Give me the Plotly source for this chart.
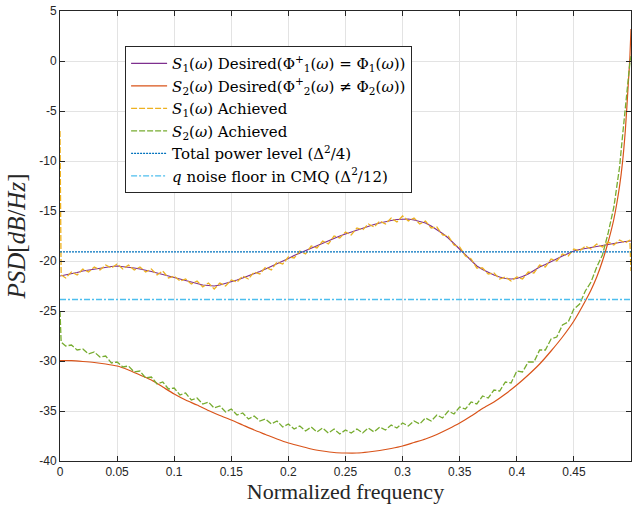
import plotly.graph_objects as go

# ---------------- data ----------------
freq_des1 = [0.000, 0.005, 0.010, 0.015, 0.020, 0.025, 0.030, 0.035, 0.040, 0.045,
             0.050, 0.055, 0.060, 0.065, 0.070, 0.075, 0.080, 0.085, 0.090, 0.095,
             0.100, 0.105, 0.110, 0.115, 0.120, 0.125, 0.130, 0.135, 0.140, 0.145,
             0.150, 0.155, 0.160, 0.165, 0.170, 0.175, 0.180, 0.185, 0.190, 0.195,
             0.200, 0.205, 0.210, 0.215, 0.220, 0.225, 0.230, 0.235, 0.240, 0.245,
             0.250, 0.255, 0.260, 0.265, 0.270, 0.275, 0.280, 0.285, 0.290, 0.295,
             0.300, 0.305, 0.310, 0.315, 0.320, 0.325, 0.330, 0.335, 0.340, 0.345,
             0.350, 0.355, 0.360, 0.365, 0.370, 0.375, 0.380, 0.385, 0.390, 0.395,
             0.400, 0.405, 0.410, 0.415, 0.420, 0.425, 0.430, 0.435, 0.440, 0.445,
             0.450, 0.455, 0.460, 0.465, 0.470, 0.475, 0.480, 0.485, 0.490, 0.495,
             0.500]
s1_desired = [-21.5, -21.4, -21.3, -21.15, -21.0, -20.9, -20.8, -20.7, -20.6, -20.55,
              -20.5, -20.55, -20.6, -20.7, -20.8, -20.9, -21.05, -21.2, -21.35, -21.5,
              -21.7, -21.85, -22.0, -22.15, -22.3, -22.4, -22.45, -22.5, -22.4, -22.25,
              -22.1, -21.9, -21.7, -21.5, -21.3, -21.05, -20.8, -20.55, -20.3, -20.0,
              -19.75, -19.45, -19.2, -18.95, -18.7, -18.45, -18.2, -17.95, -17.7, -17.5,
              -17.3, -17.1, -16.9, -16.7, -16.5, -16.35, -16.2, -16.05, -15.95, -15.85,
              -15.8, -15.8, -15.9, -16.05, -16.2, -16.5, -16.85, -17.25, -17.7, -18.25,
              -18.8, -19.35, -19.95, -20.5, -20.85, -21.15, -21.4, -21.6, -21.75, -21.8,
              -21.75, -21.55, -21.3, -20.95, -20.6, -20.35, -20.05, -19.8, -19.5, -19.25,
              -19.0, -18.85, -18.75, -18.6, -18.5, -18.4, -18.3, -18.2, -18.1, -18.05,
              -18.0]

freq_des2 = [0.00, 0.01, 0.02, 0.03, 0.04, 0.05, 0.06, 0.07, 0.08, 0.09,
             0.10, 0.11, 0.12, 0.13, 0.14, 0.15, 0.16, 0.17, 0.18, 0.19,
             0.20, 0.21, 0.22, 0.23, 0.24, 0.25, 0.26, 0.27, 0.28, 0.29,
             0.30, 0.31, 0.32, 0.33, 0.34, 0.35, 0.36, 0.37, 0.38, 0.39,
             0.40, 0.41, 0.42, 0.43, 0.44, 0.45, 0.46, 0.465, 0.47, 0.475,
             0.48, 0.485, 0.49, 0.4925, 0.495, 0.4975, 0.499, 0.5]
s2_desired = [-29.95, -29.97, -30.05, -30.15, -30.3, -30.5, -30.9, -31.4, -31.9, -32.6,
              -33.3, -33.9, -34.4, -34.95, -35.45, -35.9, -36.4, -36.9, -37.35, -37.8,
              -38.2, -38.5, -38.8, -39.0, -39.15, -39.2, -39.2, -39.1, -38.95, -38.75,
              -38.5, -38.15, -37.8, -37.35, -36.8, -36.2, -35.5, -34.75, -34.1, -33.3,
              -32.4, -31.4, -30.3, -29.0, -27.6, -26.0, -24.0, -22.9, -21.6, -20.0,
              -18.1, -15.8, -12.5, -10.2, -7.0, -2.5, 0.3, 3.2]

freq_ach1 = [0.0, 0.001, 0.005, 0.010, 0.015, 0.020, 0.025, 0.030, 0.035, 0.040, 0.045,
             0.050, 0.055, 0.060, 0.065, 0.070, 0.075, 0.080, 0.085, 0.090, 0.095,
             0.100, 0.105, 0.110, 0.115, 0.120, 0.125, 0.130, 0.135, 0.140, 0.145,
             0.150, 0.155, 0.160, 0.165, 0.170, 0.175, 0.180, 0.185, 0.190, 0.195,
             0.200, 0.205, 0.210, 0.215, 0.220, 0.225, 0.230, 0.235, 0.240, 0.245,
             0.250, 0.255, 0.260, 0.265, 0.270, 0.275, 0.280, 0.285, 0.290, 0.295,
             0.300, 0.305, 0.310, 0.315, 0.320, 0.325, 0.330, 0.335, 0.340, 0.345,
             0.350, 0.355, 0.360, 0.365, 0.370, 0.375, 0.380, 0.385, 0.390, 0.395,
             0.400, 0.405, 0.410, 0.415, 0.420, 0.425, 0.430, 0.435, 0.440, 0.445,
             0.450, 0.455, 0.460, 0.465, 0.470, 0.475, 0.480, 0.485, 0.490, 0.495,
             0.499, 0.500]
s1_achieved = [-7.0, -21.4, -21.7, -21.1, -21.4, -20.8, -21.1, -20.6, -20.9, -20.4, -20.7,
               -20.3, -20.8, -20.4, -20.9, -20.6, -21.1, -20.8, -21.4, -21.0, -21.7,
               -21.5, -22.0, -21.8, -22.3, -22.0, -22.6, -22.2, -22.8, -22.2, -22.5,
               -21.9, -22.1, -21.5, -21.8, -21.1, -21.3, -20.6, -20.9, -20.1, -20.3,
               -19.6, -19.7, -19.0, -19.3, -18.5, -18.7, -18.0, -18.3, -17.5, -17.7,
               -17.1, -17.4, -16.7, -16.9, -16.3, -16.6, -16.0, -16.3, -15.7, -16.1,
               -15.5, -16.0, -15.7, -16.3, -16.0, -16.7, -16.6, -17.4, -17.5, -18.4,
               -18.6, -19.5, -19.8, -20.7, -20.7, -21.3, -21.2, -21.8, -21.6, -22.0,
               -21.6, -21.8, -21.1, -21.2, -20.4, -20.6, -19.8, -20.0, -19.3, -19.5,
               -18.8, -19.0, -18.5, -18.8, -18.3, -18.6, -18.1, -18.4, -17.9, -18.2,
               -17.9, -21.0]

freq_ach2 = [0.0, 0.001, 0.005, 0.010, 0.015, 0.020, 0.025, 0.030, 0.035, 0.040, 0.045,
             0.050, 0.055, 0.060, 0.065, 0.070, 0.075, 0.080, 0.085, 0.090, 0.095,
             0.100, 0.105, 0.110, 0.115, 0.120, 0.125, 0.130, 0.135, 0.140, 0.145,
             0.150, 0.155, 0.160, 0.165, 0.170, 0.175, 0.180, 0.185, 0.190, 0.195,
             0.200, 0.205, 0.210, 0.215, 0.220, 0.225, 0.230, 0.235, 0.240, 0.245,
             0.250, 0.255, 0.260, 0.265, 0.270, 0.275, 0.280, 0.285, 0.290, 0.295,
             0.300, 0.305, 0.310, 0.315, 0.320, 0.325, 0.330, 0.335, 0.340, 0.345,
             0.350, 0.355, 0.360, 0.365, 0.370, 0.375, 0.380, 0.385, 0.390, 0.395,
             0.400, 0.405, 0.410, 0.415, 0.420, 0.425, 0.430, 0.435, 0.440, 0.445,
             0.450, 0.455, 0.460, 0.465, 0.470, 0.475, 0.480, 0.485, 0.490, 0.4925,
             0.495, 0.4975, 0.499, 0.500]
s2_achieved = [-25.0, -28.1, -28.5, -28.4, -28.9, -28.8, -29.3, -29.1, -29.6, -29.5, -30.2,
               -30.1, -30.6, -30.5, -31.1, -31.0, -31.7, -31.6, -32.3, -32.1, -32.8,
               -32.7, -33.4, -33.2, -33.9, -33.7, -34.3, -34.1, -34.7, -34.5, -35.1,
               -34.8, -35.4, -35.2, -35.8, -35.5, -36.0, -35.8, -36.3, -36.0, -36.6,
               -36.3, -36.8, -36.5, -37.0, -36.6, -37.1, -36.7, -37.2, -36.8, -37.3,
               -36.9, -37.2, -36.8, -37.2, -36.7, -37.1, -36.6, -36.9, -36.4, -36.7,
               -36.2, -36.5, -36.0, -36.3, -35.7, -36.0, -35.4, -35.7, -35.0, -35.3,
               -34.6, -34.8, -34.1, -34.3, -33.5, -33.7, -32.9, -33.0, -32.1, -32.2,
               -31.0, -31.1, -30.1, -30.1, -28.9, -28.9, -27.8, -27.6, -26.4, -26.1,
               -24.8, -24.3, -23.0, -22.1, -20.6, -19.4, -17.2, -14.6, -10.6, -7.6,
               -4.6, -1.8, -0.2, 0.5]

total_power_db = -19.08
noise_floor_db = -23.85

x_tick_vals = [0, 0.05, 0.1, 0.15, 0.2, 0.25, 0.3, 0.35, 0.4, 0.45, 0.5]
x_tick_text = ["0", "0.05", "0.1", "0.15", "0.2", "0.25", "0.3", "0.35", "0.4", "0.45", "0.5"]
y_tick_vals = [-40, -35, -30, -25, -20, -15, -10, -5, 0, 5]
y_tick_text = ["-40", "-35", "-30", "-25", "-20", "-15", "-10", "-5", "0", "5"]

names = [
    "<i>S</i><sub>1</sub>(<i>ω</i>) Desired(Φ<sup>+</sup><sub>1</sub>(<i>ω</i>) = Φ<sub>1</sub>(<i>ω</i>))",
    "<i>S</i><sub>2</sub>(<i>ω</i>) Desired(Φ<sup>+</sup><sub>2</sub>(<i>ω</i>) ≠ Φ<sub>2</sub>(<i>ω</i>))",
    "<i>S</i><sub>1</sub>(<i>ω</i>) Achieved",
    "<i>S</i><sub>2</sub>(<i>ω</i>) Achieved",
    "Total power level (Δ<sup>2</sup>/4)",
    "<i>q</i> noise floor in CMQ (Δ<sup>2</sup>/12)",
]

# ---------------- figure ----------------
fig = go.Figure()
fig.add_trace(go.Scatter(x=freq_des1, y=s1_desired, mode="lines", name=names[0],
                         line=dict(color="#7E2F8E", width=1.2)))
fig.add_trace(go.Scatter(x=freq_des2, y=s2_desired, mode="lines", name=names[1],
                         line=dict(color="#D95319", width=1.2, shape="spline", smoothing=0.6)))
fig.add_trace(go.Scatter(x=freq_ach1, y=s1_achieved, mode="lines", name=names[2],
                         line=dict(color="#EDB120", width=1.3, dash="6px,2px")))
fig.add_trace(go.Scatter(x=freq_ach2, y=s2_achieved, mode="lines", name=names[3],
                         line=dict(color="#77AC30", width=1.3, dash="6px,2px")))
fig.add_trace(go.Scatter(x=[x_tick_vals[0], x_tick_vals[-1]], y=[total_power_db, total_power_db],
                         mode="lines", name=names[4],
                         line=dict(color="#0072BD", width=1.2, dash="2px,1px")))
fig.add_trace(go.Scatter(x=[x_tick_vals[0], x_tick_vals[-1]], y=[noise_floor_db, noise_floor_db],
                         mode="lines", name=names[5],
                         line=dict(color="#4DBEEE", width=1.4, dash="6px,2px,2px,2px")))

axis_common = dict(
    showline=True, linecolor="#262626", linewidth=1, mirror="ticks",
    ticks="inside", ticklen=5, tickcolor="#262626",
    showgrid=True, gridcolor="#E3E3E3", gridwidth=1, zeroline=False,
    tickfont=dict(family="Liberation Sans, Arial, sans-serif", size=12, color="#262626"),
)

fig.update_layout(
    width=639, height=508,
    margin=dict(l=60, r=8, t=11, b=47),
    paper_bgcolor="white", plot_bgcolor="white",
    xaxis=dict(range=[0, 0.5], tickvals=x_tick_vals, ticktext=x_tick_text,
               title=dict(text="Normalized frequency", standoff=5,
                          font=dict(family="Liberation Serif, serif", size=22, color="#262626")),
               automargin=False, **axis_common),
    yaxis=dict(range=[-40, 5], tickvals=y_tick_vals, ticktext=y_tick_text,
               title=dict(text="<i>PSD</i>[<i>dB</i>/<i>Hz</i>]", standoff=6,
                          font=dict(family="Liberation Serif, serif", size=25, color="#262626")),
               automargin=False, **axis_common),
    legend=dict(x=0.114, y=0.922, xanchor="left", yanchor="top",
                bgcolor="white", bordercolor="#262626", borderwidth=1,
                font=dict(family="DejaVu Serif, serif", size=15, color="black"),
                itemwidth=36, tracegroupgap=0),
    showlegend=True,
)

fig.write_html("out.html", post_script="document.body.style.margin='0';",
               config={"displayModeBar": False})
